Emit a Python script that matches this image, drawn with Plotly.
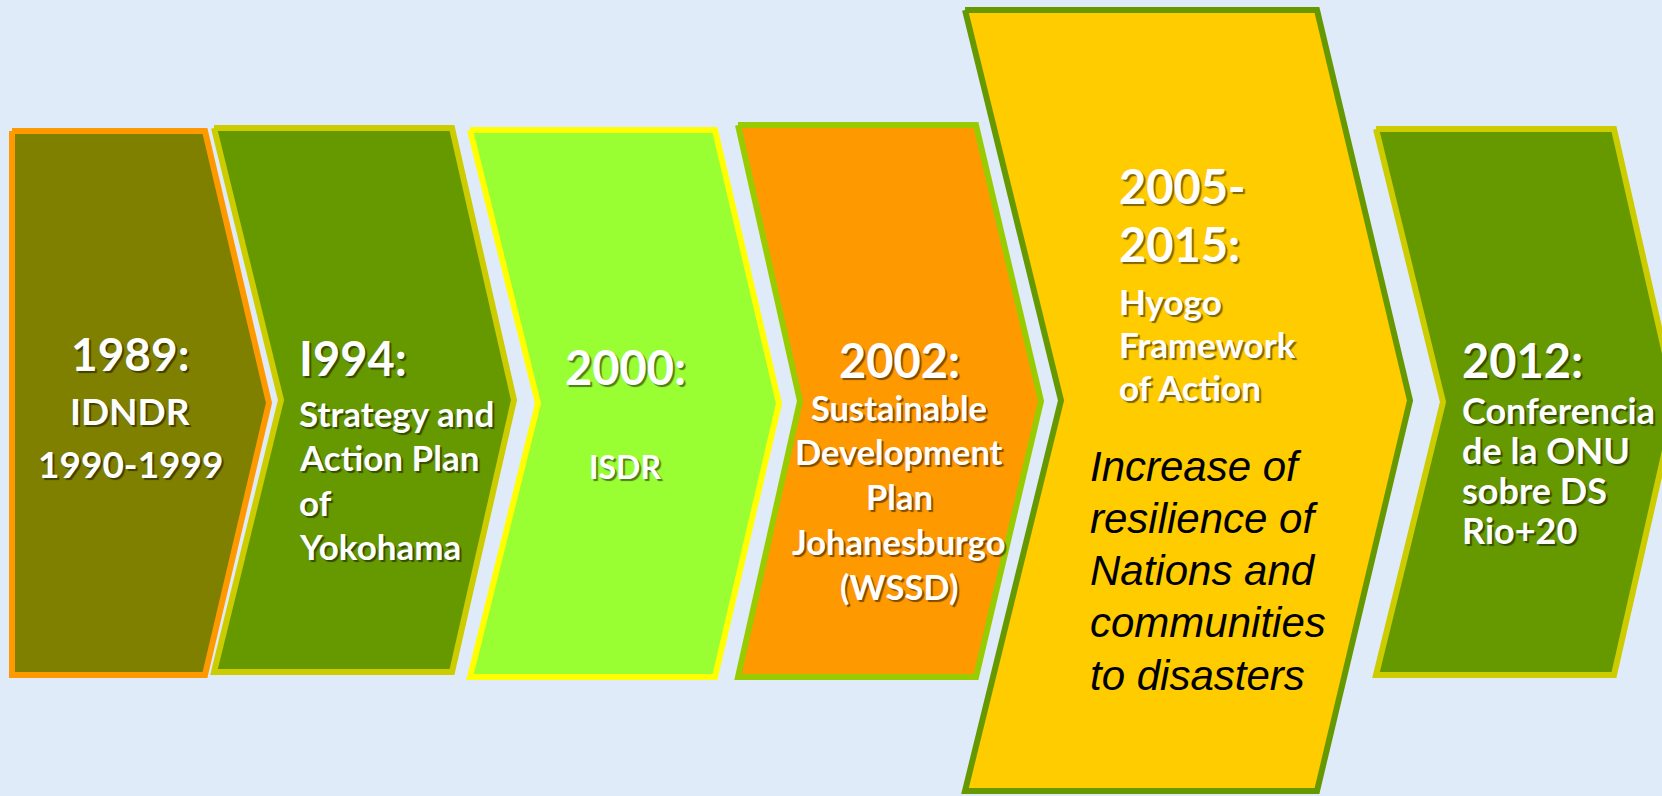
import plotly.graph_objects as go

# ---------------- content ----------------
year_lines = [["1989:"], ["I994:"], ["2000:"], ["2002:"], ["2005-", "2015:"], ["2012:"]]
desc_lines = [
    ["IDNDR", "1990-1999"],
    ["Strategy and", "Action Plan", "of", "Yokohama"],
    ["ISDR"],
    ["Sustainable", "Development", "Plan", "Johanesburgo", "(WSSD)"],
    ["Hyogo", "Framework", "of Action"],
    ["Conferencia", "de la ONU", "sobre DS", "Rio+20"],
]
note_lines = ["Increase of", "resilience of", "Nations and", "communities", "to disasters"]

# ---------------- styles ----------------
fill_colors = ["#808000", "#669900", "#99FF33", "#FF9900", "#FFCC00", "#669900"]
border_colors = ["#FF9900", "#CCCC00", "#FFFF00", "#99CC00", "#669900", "#CCCC00"]
BG = "#E0EBFA"

# ---------------- geometry (pixel space, outer edges) ----------------
left = [9, 211, 467, 735, 962, 1373]
right = [208, 455, 718, 979, 1320, 1617]
top = [128, 125, 127, 122, 7, 126]
bottom = [678, 675, 680, 680, 794, 678]
tip = [64, 62, 64, 65, 93, 62]
notch = [0, 67, 68, 62, 96, 67]
BW = 6

# text layout
text_align = ["center", "left", "center", "center", "left", "left"]
text_x = [130, 297, 625, 899, 1117, 1460]
year_y = [[353], [358], [367], [360], [186, 244], [360]]
year_size = [46, 47, 47, 47, 47, 47]
desc_y0 = [410, 413, 466, 407, 301, 410]
desc_step = [53, 44.3, 0, 44.8, 43, 40]
desc_size = [37, 35, 32, 34.5, 35, 36]
note_x = 1088
note_y0 = 466
note_step = 52.3
SHADOW = "2px 2px 1px rgba(0,0,0,0.5)"

fig = go.Figure()

for i in range(len(left)):
    h = BW / 2
    L, R, T, B = left[i] + h, right[i] - h, top[i] + h, bottom[i] - h
    M = (top[i] + bottom[i]) / 2
    xs = [L, R, R + tip[i], R, L, L + notch[i], L]
    ys = [T, T, M, B, B, M, T]
    fig.add_trace(go.Scatter(
        x=xs, y=ys, mode="lines", fill="toself",
        fillcolor=fill_colors[i],
        line=dict(color=border_colors[i], width=BW),
        hoverinfo="skip", showlegend=False,
    ))

anns = []
for i in range(len(left)):
    xa = "center" if text_align[i] == "center" else "left"
    for j, t in enumerate(year_lines[i]):
        anns.append(dict(
            x=text_x[i], y=year_y[i][j], text=t, showarrow=False,
            xanchor=xa, yanchor="middle", align=text_align[i],
            font=dict(family="Lato", size=year_size[i], color="white",
                      weight="bold", shadow=SHADOW),
        ))
    for j, t in enumerate(desc_lines[i]):
        anns.append(dict(
            x=text_x[i], y=desc_y0[i] + j * desc_step[i], text=t, showarrow=False,
            xanchor=xa, yanchor="middle", align=text_align[i],
            font=dict(family="Lato", size=desc_size[i], color="white",
                      weight="bold", shadow=SHADOW),
        ))
for j, t in enumerate(note_lines):
    anns.append(dict(
        x=note_x, y=note_y0 + j * note_step, text=t, showarrow=False,
        xanchor="left", yanchor="middle", align="left",
        font=dict(family="Liberation Sans", size=42, color="black", style="italic"),
    ))

fig.update_layout(
    width=1662, height=796,
    margin=dict(l=0, r=0, t=0, b=0),
    paper_bgcolor=BG, plot_bgcolor=BG,
    xaxis=dict(range=[0, 1662], visible=False, fixedrange=True),
    yaxis=dict(range=[796, 0], visible=False, fixedrange=True),
    annotations=anns,
    showlegend=False,
)

fig.write_html(
    "out.html",
    config={"displayModeBar": False},
    post_script="document.body.style.margin='0';document.body.style.overflow='hidden';",
)
